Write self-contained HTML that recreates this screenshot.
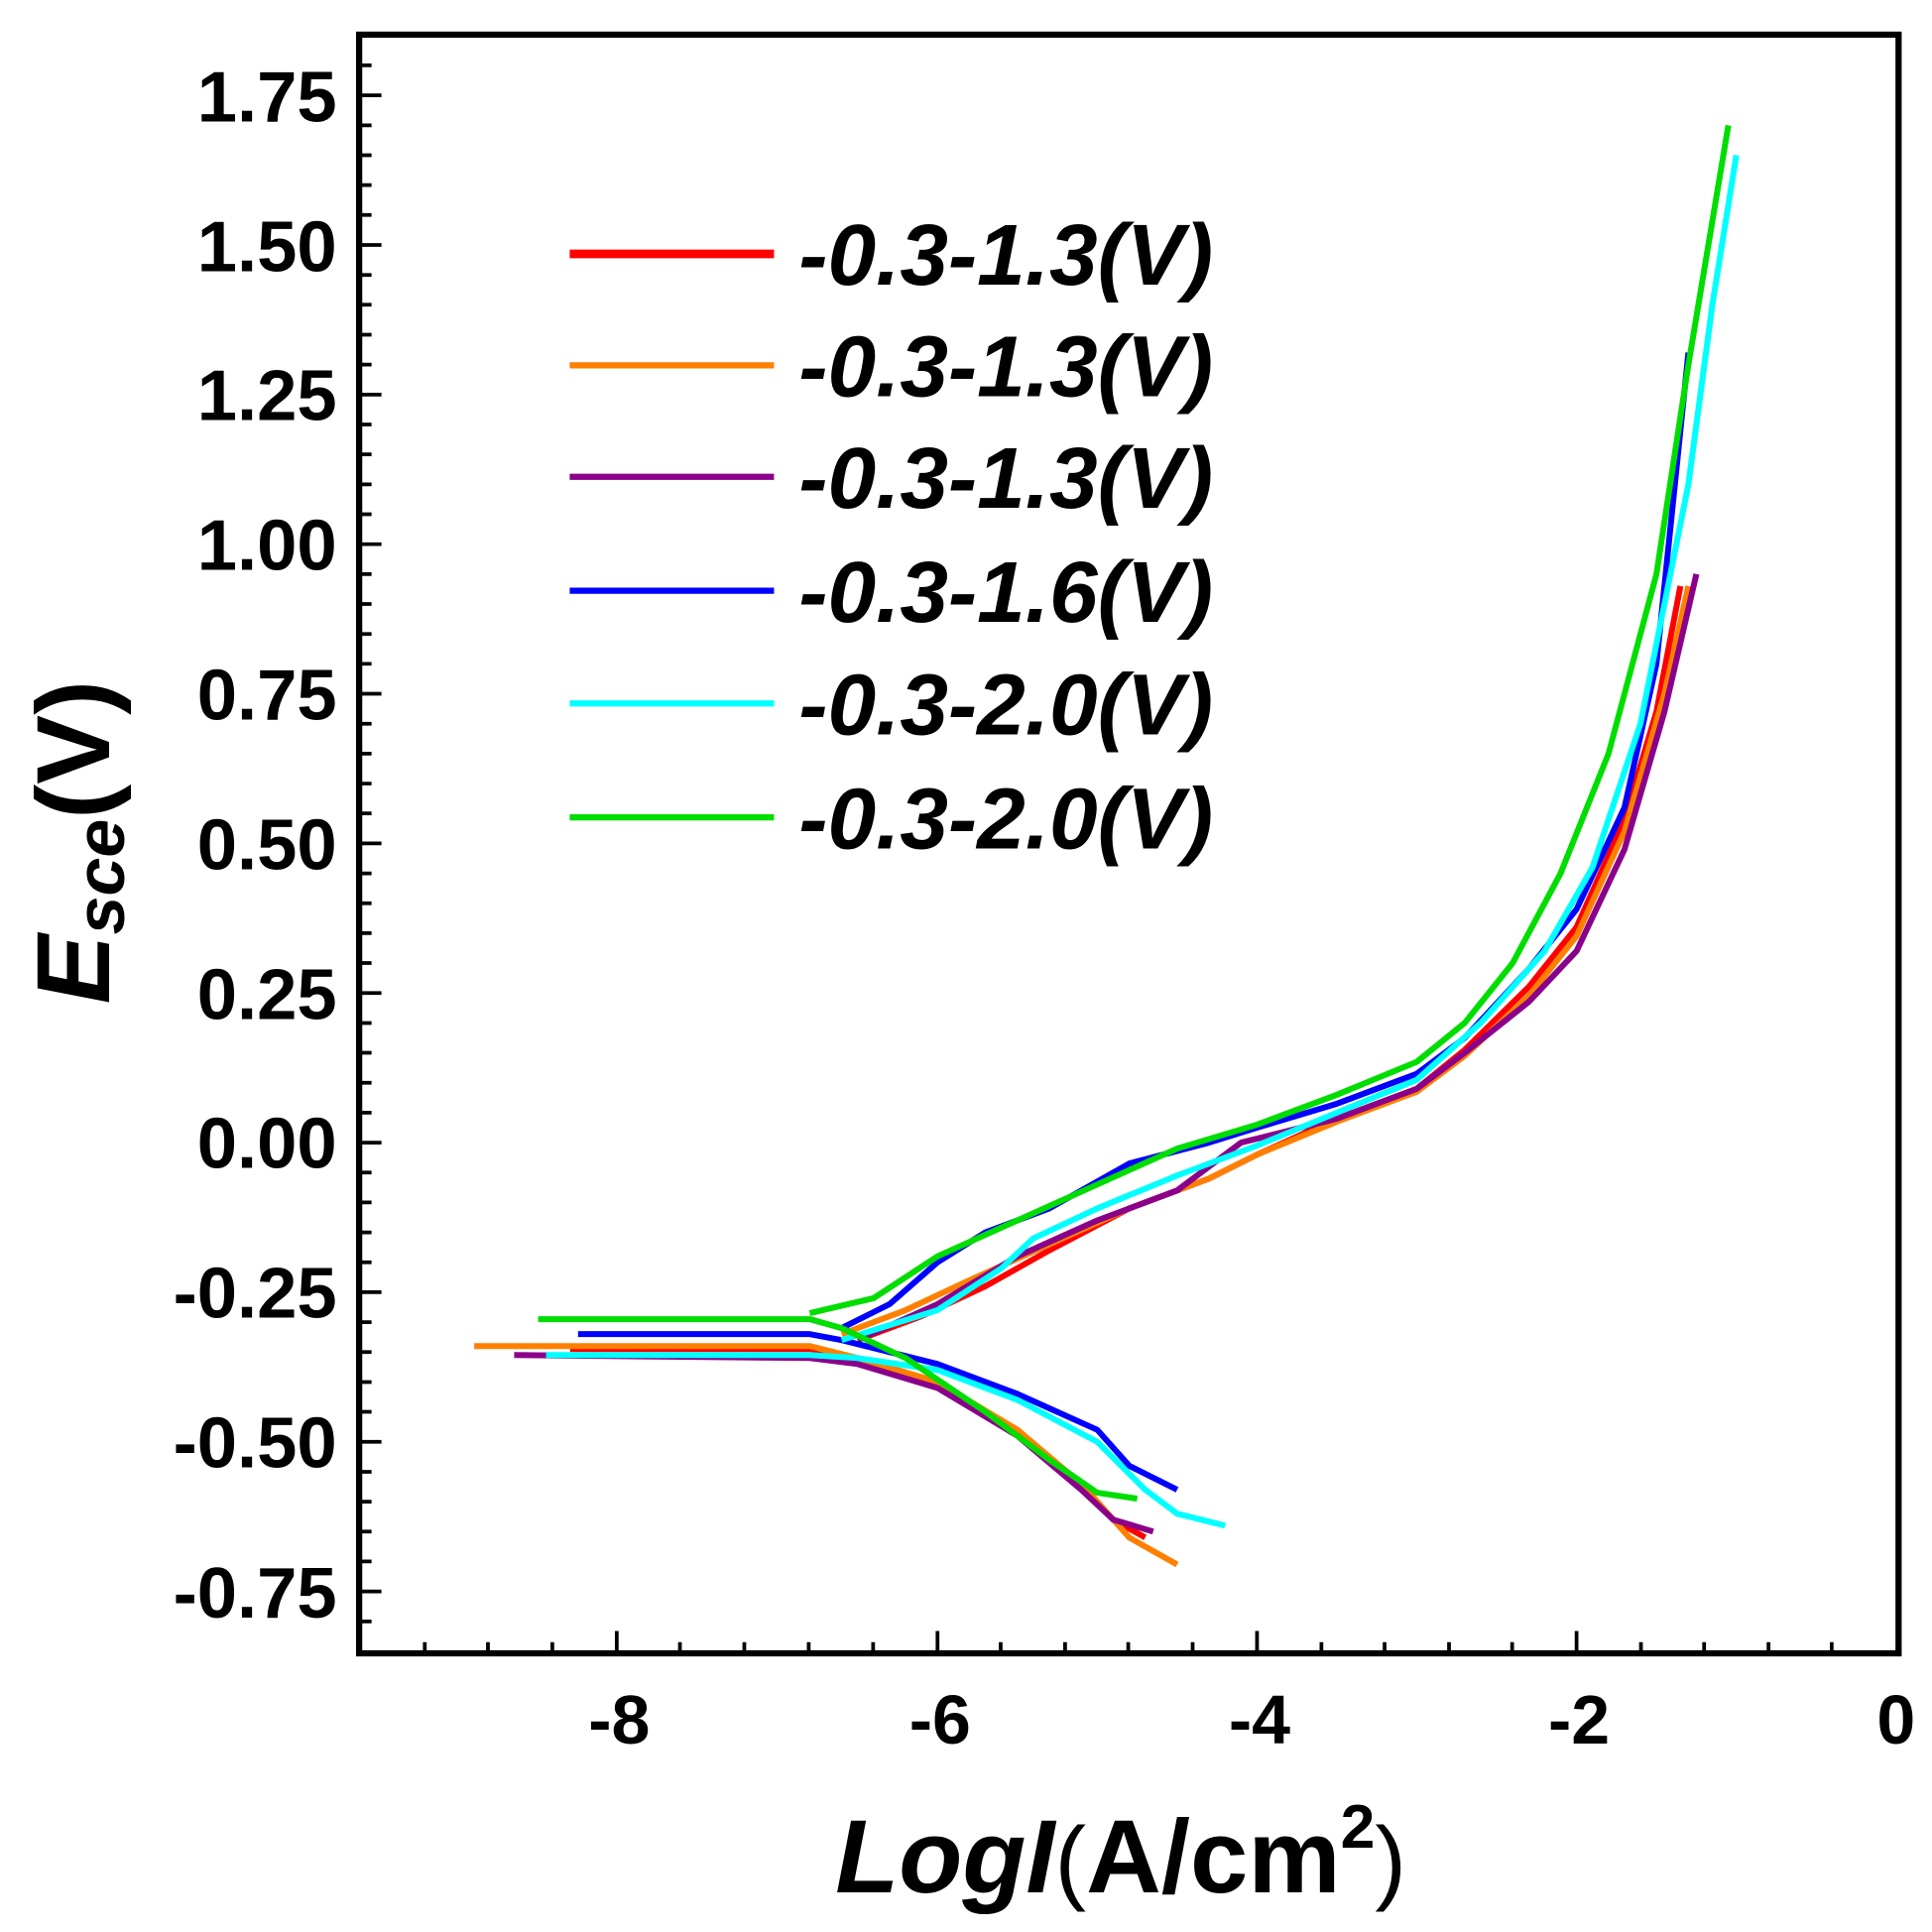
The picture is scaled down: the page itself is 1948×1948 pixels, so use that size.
<!DOCTYPE html>
<html><head><meta charset="utf-8"><style>html,body{margin:0;padding:0;background:#fff}svg{display:block}</style></head>
<body>
<svg width="1948" height="1948" viewBox="0 0 1560 1560" xmlns="http://www.w3.org/2000/svg" font-family="Liberation Sans, Arial, sans-serif" font-weight="bold">
<rect width="1560" height="1560" fill="#fff"/>
<g transform="matrix(129 0 0 -483.2 1531 922.6)" fill="none" stroke-width="6" stroke-linejoin="round">
<polyline vector-effect="non-scaling-stroke" stroke="#ff0000" points="-8.3,-0.345 -6.8,-0.345 -6.5,-0.365 -6,-0.405 -5.5,-0.48 -5.1,-0.575 -4.9,-0.63 -4.7,-0.66"/>
<polyline vector-effect="non-scaling-stroke" stroke="#ff0000" points="-6.5,-0.33 -6.1,-0.29 -5.7,-0.24 -5.3,-0.18 -4.8,-0.11 -4.3,-0.06 -4,-0.02 -3.5,0.04 -3,0.09 -2.7,0.155 -2.3,0.26 -2,0.36 -1.7,0.54 -1.5,0.72 -1.35,0.93"/>
<polyline vector-effect="non-scaling-stroke" stroke="#ff8000" points="-8.9,-0.34 -6.8,-0.34 -6.5,-0.36 -6,-0.4 -5.5,-0.48 -5.1,-0.57 -4.8,-0.66 -4.5,-0.705"/>
<polyline vector-effect="non-scaling-stroke" stroke="#ff8000" points="-6.6,-0.32 -6.2,-0.28 -5.8,-0.23 -5.3,-0.17 -4.8,-0.11 -4.3,-0.06 -4,-0.02 -3.5,0.035 -3,0.085 -2.7,0.145 -2.3,0.245 -2,0.345 -1.7,0.52 -1.45,0.75 -1.3,0.93"/>
<polyline vector-effect="non-scaling-stroke" stroke="#8b008b" points="-8.65,-0.355 -6.8,-0.36 -6.5,-0.37 -6,-0.41 -5.5,-0.49 -5.1,-0.58 -4.9,-0.63 -4.65,-0.65"/>
<polyline vector-effect="non-scaling-stroke" stroke="#8b008b" points="-6.5,-0.33 -6,-0.27 -5.5,-0.19 -5,-0.13 -4.5,-0.08 -4.3,-0.04 -4.1,0.0 -3.5,0.04 -3,0.09 -2.7,0.15 -2.3,0.235 -2,0.32 -1.7,0.49 -1.45,0.72 -1.25,0.95"/>
<polyline vector-effect="non-scaling-stroke" stroke="#0000ff" points="-8.25,-0.32 -6.8,-0.32 -6.6,-0.33 -6,-0.37 -5.5,-0.42 -5,-0.48 -4.8,-0.54 -4.5,-0.58"/>
<polyline vector-effect="non-scaling-stroke" stroke="#0000ff" points="-6.6,-0.31 -6.3,-0.27 -6,-0.2 -5.7,-0.15 -5.3,-0.11 -4.8,-0.035 -4.3,0.0 -4,0.025 -3.5,0.065 -3,0.115 -2.7,0.175 -2.3,0.29 -2,0.39 -1.7,0.56 -1.5,0.8 -1.3,1.32"/>
<polyline vector-effect="non-scaling-stroke" stroke="#00ffff" points="-8.45,-0.355 -6.8,-0.355 -6.5,-0.36 -6,-0.38 -5.5,-0.43 -5,-0.5 -4.7,-0.58 -4.5,-0.62 -4.2,-0.64"/>
<polyline vector-effect="non-scaling-stroke" stroke="#00ffff" points="-6.6,-0.33 -6,-0.28 -5.6,-0.21 -5.4,-0.16 -5,-0.11 -4.5,-0.055 -4,-0.005 -3.5,0.05 -3,0.105 -2.6,0.2 -2.2,0.32 -1.9,0.46 -1.6,0.7 -1.3,1.1 -1.15,1.4 -1.0,1.65"/>
<polyline vector-effect="non-scaling-stroke" stroke="#00dd00" points="-8.5,-0.295 -6.8,-0.295 -6.6,-0.31 -6.2,-0.36 -5.7,-0.45 -5.3,-0.53 -5,-0.585 -4.75,-0.595"/>
<polyline vector-effect="non-scaling-stroke" stroke="#00dd00" points="-6.8,-0.285 -6.4,-0.26 -6,-0.19 -5.5,-0.13 -5,-0.07 -4.5,-0.01 -4,0.03 -3.5,0.08 -3,0.135 -2.7,0.2 -2.4,0.3 -2.1,0.45 -1.8,0.65 -1.5,0.95 -1.3,1.3 -1.05,1.7"/>
</g>
<rect x="290" y="28" width="1243" height="1307" fill="none" stroke="#000" stroke-width="5"/>
<g stroke="#000" stroke-width="3">
<path d="M498 1335v-18M757 1335v-18M1015 1335v-18M1273 1335v-18"/>
<path d="M343 1335v-9M394 1335v-9M446 1335v-9M549 1335v-9M601 1335v-9M653 1335v-9M705 1335v-9M808 1335v-9M860 1335v-9M911 1335v-9M963 1335v-9M1067 1335v-9M1118 1335v-9M1170 1335v-9M1221 1335v-9M1325 1335v-9M1376 1335v-9M1428 1335v-9M1479 1335v-9"/>
<path d="M290 77h18M290 197.8h18M290 318.6h18M290 439.4h18M290 560.2h18M290 681h18M290 801.8h18M290 922.6h18M290 1043.4h18M290 1164.2h18M290 1285h18"/>
</g>
<g stroke="#000" stroke-width="3" id="ym"></g>
<script>
(function(){var g=document.getElementById('ym');var d='';for(var v=-0.85;v<=1.86;v+=0.05){var r=Math.round(v*100);if(r%25===0)continue;var y=922.6-483.2*v;if(y<30||y>1333)continue;d+='M290 '+y.toFixed(1)+'h10';}
var p=document.createElementNS('http://www.w3.org/2000/svg','path');p.setAttribute('d',d);g.appendChild(p);})();
</script>
<g font-size="58" text-anchor="end">
<text x="272" y="98">1.75</text><text x="272" y="219">1.50</text><text x="272" y="339">1.25</text><text x="272" y="460">1.00</text><text x="272" y="581">0.75</text><text x="272" y="702">0.50</text><text x="272" y="823">0.25</text><text x="272" y="943">0.00</text><text x="272" y="1064">-0.25</text><text x="272" y="1185">-0.50</text><text x="272" y="1306">-0.75</text>
</g>
<g font-size="56" text-anchor="middle">
<text x="500" y="1408">-8</text><text x="759" y="1408">-6</text><text x="1017" y="1408">-4</text><text x="1275" y="1408">-2</text><text x="1531" y="1408">0</text>
</g>
<text x="905" y="1528" font-size="84" text-anchor="middle"><tspan font-style="italic">LogI</tspan><tspan font-weight="normal" font-size="76">(</tspan>A/cm<tspan font-size="50" dy="-36">2</tspan><tspan font-weight="normal" font-size="76" dy="36">)</tspan></text>
<text transform="translate(88 680) rotate(-90)" font-size="84" text-anchor="middle"><tspan font-style="italic">E</tspan><tspan font-style="italic" font-size="56" dy="12">sce</tspan><tspan dy="-12">(V)</tspan></text>
<g stroke-width="5">
<line x1="460" y1="205" x2="625" y2="205" stroke="#ff0000" stroke-width="7"/>
<line x1="460" y1="295" x2="625" y2="295" stroke="#ff8000"/>
<line x1="460" y1="385" x2="625" y2="385" stroke="#8b008b"/>
<line x1="460" y1="477" x2="625" y2="477" stroke="#0000ff"/>
<line x1="460" y1="568" x2="625" y2="568" stroke="#00ffff"/>
<line x1="460" y1="660" x2="625" y2="660" stroke="#00dd00"/>
</g>
<g font-size="70" font-style="italic">
<text x="645" y="230">-0.3-1.3(V)</text>
<text x="645" y="320">-0.3-1.3(V)</text>
<text x="645" y="410">-0.3-1.3(V)</text>
<text x="645" y="502">-0.3-1.6(V)</text>
<text x="645" y="593">-0.3-2.0(V)</text>
<text x="645" y="685">-0.3-2.0(V)</text>
</g>
</svg>
</body></html>
